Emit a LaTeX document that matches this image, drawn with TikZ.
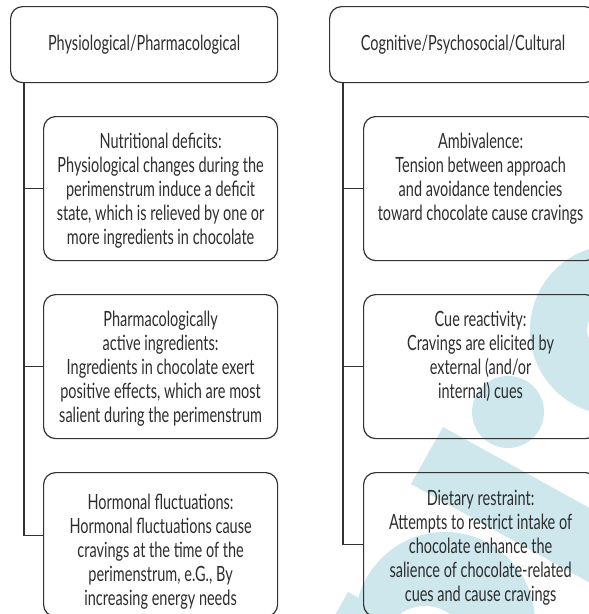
\documentclass[tikz,border=0pt]{standalone}
\usepackage{fontspec}
\setmainfont[FakeStretch=0.69]{Lato}
\definecolor{wmcyan}{RGB}{205,231,237}
\definecolor{boxgray}{RGB}{50,50,50}
\definecolor{txtgray}{RGB}{45,45,45}
\newcommand\diagfont{\fontsize{21}{24}\selectfont}
\begin{document}
\begin{tikzpicture}[x=1pt,y=-1pt,
  headbox/.style={draw=boxgray, line width=1.2pt, rounded corners=12pt,
    minimum width=267pt, minimum height=76pt, inner sep=0pt,
    anchor=north west, font=\diagfont, text=txtgray},
  itembox/.style={draw=boxgray, line width=1.2pt, rounded corners=12pt,
    minimum width=234pt, minimum height=144pt, inner sep=0pt,
    anchor=north west},
  itemtext/.style={anchor=north, align=center, font=\diagfont,
    text=txtgray, inner sep=0pt},
  conn/.style={draw=boxgray, line width=1.2pt},
  wmshape/.style={fill=wmcyan, draw=none}
]
\path[use as bounding box] (0,0) rectangle (589,614);
\clip (0,0) rectangle (589,614);

% background emblem
\fill[wmshape] (615,330) circle (85);
\fill[white] (607,330) circle (20);
\fill[wmshape] (508,412) circle (36);
\fill[wmshape] (443,427) -- (662,548) -- (630,605) -- (411,484) -- cycle;
\fill[wmshape] (348,592) -- (568,714) -- (536,771) -- (316,649) -- cycle;
\fill[wmshape] (445,622) circle (90);
\fill[white] (425,648) circle (42);

% column headers
\node[headbox] (hL) at (10,6) {Physiological/Pharmacological};
\node[headbox] (hR) at (329,6) {Cognitive/Psychosocial/Cultural};

% left column boxes
\node[itembox] (l1) at (43,116) {};
\node[itembox] (l2) at (43,294) {};
\node[itembox] (l3) at (43,472) {};
% right column boxes
\node[itembox] (r1) at (363,116) {};
\node[itembox] (r2) at (363,294) {};
\node[itembox] (r3) at (363,472) {};

% box texts
\node[itemtext] (l1t) at ([yshift=-17pt]l1.north) {Nutritional deficits:\\
  Physiological changes during the\\ perimenstrum induce a deficit\\
  state, which is relieved by one or\\ more ingredients in chocolate};
\node[itemtext] (l2t) at ([yshift=-17pt]l2.north) {Pharmacologically\\
  active ingredients:\\ Ingredients in chocolate exert\\
  positive effects, which are most\\ salient during the perimenstrum};
\node[itemtext] (l3t) at ([yshift=-22pt]l3.north) {Hormonal fluctuations:\\
  Hormonal fluctuations cause\\ cravings at the time of the\\
  perimenstrum, e.G., By\\ increasing energy needs};
\node[itemtext] (r1t) at ([yshift=-17pt]r1.north) {Ambivalence:\\
  Tension between approach\\ and avoidance tendencies\\
  toward chocolate cause cravings};
\node[itemtext] (r2t) at ([yshift=-17pt]r2.north) {Cue reactivity:\\
  Cravings are elicited by\\ external (and/or\\ internal) cues};
\node[itemtext] (r3t) at ([yshift=-18pt]r3.north) {Dietary restraint:\\
  Attempts to restrict intake of\\ chocolate enhance the\\
  salience of chocolate-related\\ cues and cause cravings};

% connectors
\coordinate (trunkL) at ([xshift=14pt]hL.south west);
\coordinate (trunkR) at ([xshift=14pt]hR.south west);
\draw[conn] (trunkL) |- ([yshift=9pt]l3.west);
\draw[conn] (trunkL |- l1.west) -- (l1.west);
\draw[conn] (trunkL |- l2.west) -- (l2.west);
\draw[conn] (trunkR) |- (r3.west);
\draw[conn] (trunkR |- r1.west) -- (r1.west);
\draw[conn] (trunkR |- r2.west) -- (r2.west);
\end{tikzpicture}
\end{document}
